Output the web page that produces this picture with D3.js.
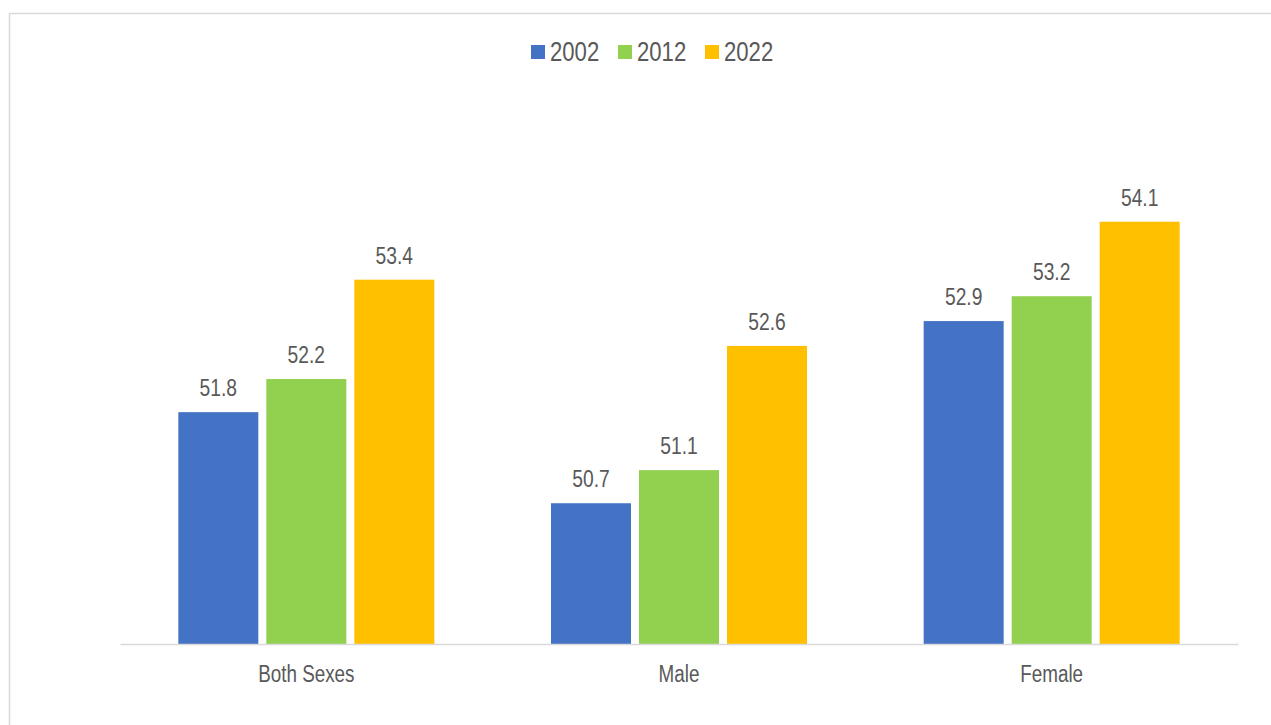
<!DOCTYPE html>
<html><head><meta charset="utf-8">
<script src="https://cdn.jsdelivr.net/npm/d3@7"></script>
<style>
html,body{margin:0;padding:0;background:#fff;}
text{font-family:"Liberation Sans",Arial,sans-serif;fill:#595959;}
</style></head>
<body><svg id="c" width="1271" height="725"></svg>
<script>
const categories = ["Both Sexes", "Male", "Female"];
const years = ["2002", "2012", "2022"];
const values2002 = [51.8, 50.7, 52.9];
const values2012 = [52.2, 51.1, 53.2];
const values2022 = [53.4, 52.6, 54.1];
const colors = ["#4472C4", "#92D050", "#FFC000"];
const series = [values2002, values2012, values2022];

const NARROW = 0.82;
function narrowText(sel, x, y, size, anchor, str) {
  return sel.append("text")
    .attr("transform", `translate(${x},${y}) scale(${NARROW},1)`)
    .attr("text-anchor", anchor).attr("font-size", size).text(str);
}

const svg = d3.select("#c");
svg.append("rect").attr("x", 9.5).attr("y", 13.5).attr("width", 1300).attr("height", 800)
  .attr("fill", "#fff").attr("stroke", "#d9d9d9").attr("stroke-width", 1.5);

const left = 120, right = 1238, base = 644;
const x0 = d3.scaleBand().domain(categories).range([left, right]).paddingInner(0).paddingOuter(0);
const y = d3.scaleLinear().domain([49, 55]).range([base, base - 6 * 82.8]);
const barW = 80, gap = 8;

categories.forEach((c, ci) => {
  const groupW = years.length * barW + (years.length - 1) * gap;
  const start = x0(c) + (x0.bandwidth() - groupW) / 2;
  years.forEach((yr, si) => {
    const v = series[si][ci];
    const bx = start + si * (barW + gap);
    svg.append("rect").attr("x", bx).attr("y", y(v)).attr("width", barW).attr("height", y(49) - y(v))
      .attr("fill", colors[si]);
    narrowText(svg, bx + barW / 2, y(v) - 16, 23.5, "middle", v.toFixed(1));
  });
});

const xAxis = svg.append("g").attr("transform", `translate(0,${base})`)
  .call(d3.axisBottom(x0).tickSize(0).tickPadding(0));
xAxis.select(".domain").attr("stroke", "#d9d9d9").attr("stroke-width", 1.5);
xAxis.selectAll(".tick text").attr("font-size", 23).attr("dy", null).attr("y", 0)
  .attr("transform", `translate(0,38) scale(${NARROW},1)`)
  .style("fill", "#595959").style("font-family", '"Liberation Sans",Arial,sans-serif');

const legendX = [531, 618, 705];
years.forEach((yr, i) => {
  svg.append("rect").attr("x", legendX[i]).attr("y", 45).attr("width", 14).attr("height", 14).attr("fill", colors[i]);
  narrowText(svg, legendX[i] + 19, 61, 27, "start", yr);
});
</script></body></html>
